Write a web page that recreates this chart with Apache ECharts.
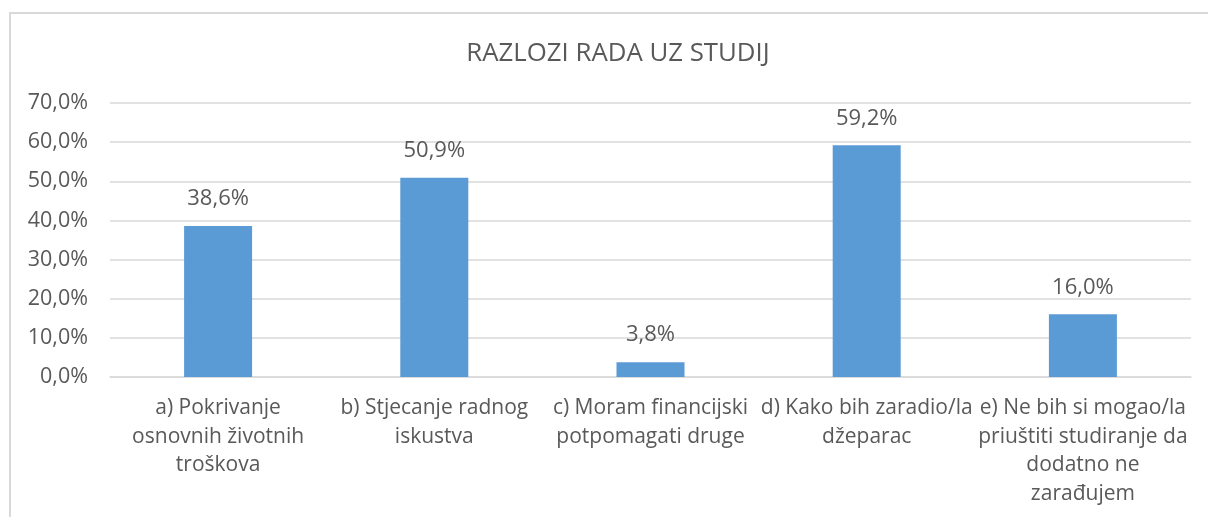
<!DOCTYPE html>
<html>
<head>
<meta charset="utf-8">
<style>
  html, body { margin: 0; padding: 0; background: #fff; }
  #chart { width: 1208px; height: 517px; }
</style>
<script src="https://cdn.jsdelivr.net/npm/echarts@6/dist/echarts.min.js"></script>
</head>
<body>
<div id="chart"></div>
<script>
var chartTitle = "RAZLOZI RADA UZ STUDIJ";
var categories = [
  "a) Pokrivanje\nosnovnih životnih\ntroškova",
  "b) Stjecanje radnog\niskustva",
  "c) Moram financijski\npotpomagati druge",
  "d) Kako bih zaradio/la\ndžeparac",
  "e) Ne bih si mogao/la\npriuštiti studiranje da\ndodatno ne\nzarađujem"
];
var values = [38.6, 50.9, 3.8, 59.2, 16.0];

var font = "Open Sans";
var textColor = "#595959";
var gridColor = "#d9d9d9";

function pct(v) {
  return v.toFixed(1).replace(".", ",") + "%";
}

var chart = echarts.init(document.getElementById("chart"));
chart.setOption({
  backgroundColor: "#fff",
  animation: false,
  title: {
    text: chartTitle,
    left: 613,
    top: 36,
    textAlign: "center",
    textStyle: {
      fontFamily: font,
      fontSize: 25.8,
      fontWeight: "normal",
      color: textColor
    }
  },
  graphic: [
    {
      type: "rect",
      shape: { x: 10, y: 13, width: 1400, height: 800 },
      style: { fill: "none", stroke: gridColor, lineWidth: 2 },
      silent: true
    }
  ],
  grid: {
    left: 110,
    right: 17,
    top: 103,
    bottom: 140
  },
  xAxis: {
    type: "category",
    data: categories,
    axisTick: { show: false },
    axisLine: { lineStyle: { color: gridColor, width: 1.5 } },
    axisLabel: {
      interval: 0,
      margin: 17,
      color: textColor,
      fontFamily: font,
      fontSize: 21,
      lineHeight: 28.5
    }
  },
  yAxis: {
    type: "value",
    min: 0,
    max: 70,
    interval: 10,
    axisLine: { show: false },
    axisTick: { show: false },
    splitLine: { lineStyle: { color: gridColor, width: 1.5 } },
    axisLabel: {
      margin: 22,
      color: textColor,
      fontFamily: font,
      fontSize: 21.5,
      formatter: pct
    }
  },
  series: [
    {
      type: "bar",
      data: values,
      barWidth: 68,
      itemStyle: { color: "#5b9bd5" },
      label: {
        show: true,
        position: "top",
        distance: 16,
        color: textColor,
        fontFamily: font,
        fontSize: 22,
        formatter: function (p) {
          return pct(p.value);
        }
      }
    }
  ]
});
</script>
</body>
</html>
